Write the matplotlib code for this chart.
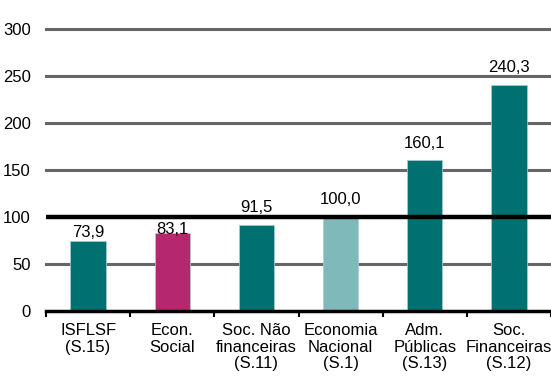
import numpy as np
import matplotlib.pyplot as plt
import matplotlib as mpl

mpl.rcParams.update({'font.size': 12, 'font.family': ['Liberation Sans', 'DejaVu Sans']})

categories = ['ISFLSF\n(S.15)', 'Econ.\nSocial', 'Soc. Não\nfinanceiras\n(S.11)',
              'Economia\nNacional\n(S.1)', 'Adm.\nPúblicas\n(S.13)', 'Soc.\nFinanceiras\n(S.12)']
values = [73.9, 83.1, 91.5, 100.0, 160.1, 240.3]
labels = ['73,9', '83,1', '91,5', '100,0', '160,1', '240,3']
yticks = [0, 50, 100, 150, 200, 250, 300]

# style
colors = ['#007170', '#b5276f', '#007170', '#7fb9b9', '#007170', '#007170']
label_offset = [1, -3, 7, 7, 7, 7]   # points above bar top

fig = plt.figure(figsize=(5.51, 3.76), dpi=100)
ax = fig.add_axes([0.0835, 0.173, 0.9165, 0.75])

x = np.arange(len(values))
for y in yticks[1:]:
    if y == 100:
        continue
    ax.axhline(y, color='#666666', lw=2.2, zorder=1, clip_on=False)
ax.bar(x, values, width=0.42, color=colors, edgecolor='#a8d0d0', linewidth=0.5, zorder=2)
ax.axhline(100, color='black', lw=3.2, zorder=3)

for xi, v, lab, off in zip(x, values, labels, label_offset):
    ax.annotate(lab, (xi, v), xytext=(0, off), textcoords='offset points',
                ha='center', va='bottom', fontsize=12, zorder=4)

ax.set_xlim(-0.5, len(values) - 0.5)
ax.set_ylim(0, 300)
ax.set_yticks(yticks)
ax.tick_params(axis='y', length=0, pad=11, labelsize=12)

ax.set_xticks(np.arange(len(values) + 1) - 0.5)
ax.set_xticklabels([])
ax.set_xticks(x, minor=True)
ax.set_xticklabels(categories, minor=True, linespacing=1.12, va='top')
ax.tick_params(axis='x', which='major', length=4, width=1.5, color='black', direction='out')
ax.tick_params(axis='x', which='minor', length=0, pad=9, labelsize=12)

for s in ['left', 'right', 'top']:
    ax.spines[s].set_visible(False)
ax.spines['bottom'].set_linewidth(2.5)
ax.spines['bottom'].set_zorder(3)

fig.savefig('out.png', dpi=100)
